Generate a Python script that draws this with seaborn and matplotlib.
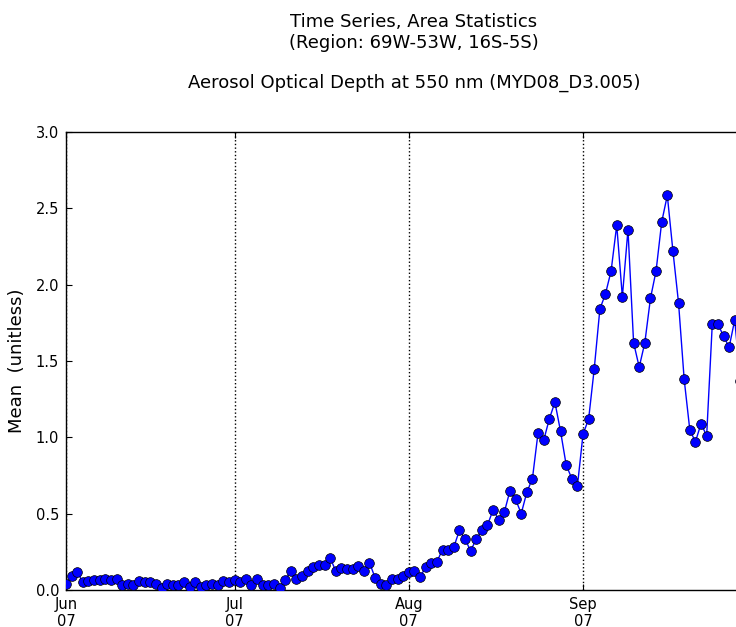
import numpy as np
import pandas as pd
import matplotlib
matplotlib.use("Agg")
import matplotlib.pyplot as plt
import matplotlib.dates as mdates
import seaborn as sns

start_date = "2007-06-01"
aod_mean = [
    0.04, 0.09, 0.12, 0.05, 0.06, 0.065, 0.065, 0.07, 0.065, 0.07,
    0.03, 0.04, 0.035, 0.06, 0.05, 0.05, 0.04, 0.015, 0.04, 0.03,
    0.03, 0.05, 0.02, 0.055, 0.02, 0.03, 0.04, 0.03, 0.06, 0.05,
    0.065, 0.055, 0.07, 0.03, 0.07, 0.03, 0.03, 0.04, 0.015, 0.065,
    0.125, 0.07, 0.09, 0.125, 0.15, 0.165, 0.165, 0.21, 0.125, 0.145,
    0.135, 0.135, 0.16, 0.125, 0.18, 0.08, 0.04, 0.03, 0.075, 0.07,
    0.09, 0.115, 0.125, 0.085, 0.15, 0.18, 0.185, 0.265, 0.265, 0.28,
    0.39, 0.335, 0.255, 0.335, 0.39, 0.425, 0.525, 0.46, 0.51, 0.65,
    0.595, 0.50, 0.64, 0.73, 1.03, 0.98, 1.12, 1.23, 1.04, 0.82,
    0.73, 0.68, 1.02, 1.12, 1.45, 1.84, 1.94, 2.09, 2.39, 1.92,
    2.36, 1.62, 1.46, 1.62, 1.91, 2.09, 2.41, 2.585, 2.22, 1.88,
    1.38, 1.05, 0.97, 1.09, 1.01, 1.74, 1.74, 1.665, 1.59, 1.77,
    1.37,
]
y_ticks = [0.0, 0.5, 1.0, 1.5, 2.0, 2.5, 3.0]
tick_months = [6, 7, 8, 9]
title_lines = ["Time Series, Area Statistics", "(Region: 69W-53W, 16S-5S)",
               "Aerosol Optical Depth at 550 nm (MYD08_D3.005)"]
y_label = "Mean  (unitless)"

dates = pd.date_range(start_date, periods=len(aod_mean), freq="D")
df = pd.DataFrame({"date": dates, "value": aod_mean})

sns.set_style("ticks")
plt.rcParams["font.family"] = ["DejaVu Sans"]
plt.rcParams["text.color"] = "k"
plt.rcParams["axes.labelcolor"] = "k"

W, H = 736, 627
fig = plt.figure(figsize=(W / 100, H / 100), dpi=100)
ax = fig.add_axes([66 / W, (H - 590) / H, 696 / W, 458 / H])

sns.lineplot(data=df, x="date", y="value", ax=ax, color="#0000ff",
             marker="o", markersize=7, markeredgecolor="k",
             markeredgewidth=0.5, linewidth=1.0, zorder=3)

x0 = pd.Timestamp(start_date)
ax.set_xlim(x0, x0 + pd.Timedelta(days=123.85))
ax.set_ylim(0, 3.0)
ax.set_yticks(y_ticks)
ax.set_yticklabels([f"{t:.1f}" for t in y_ticks])
ax.xaxis.set_major_locator(mdates.MonthLocator(bymonth=tick_months))
ax.xaxis.set_major_formatter(mdates.DateFormatter("%b\n%y"))
ax.xaxis.grid(True, linestyle=":", color="k", linewidth=1.0)
ax.yaxis.grid(False)
ax.tick_params(direction="in", top=True, right=True, length=4,
               labelsize=10.5, colors="k", pad=5)
for s in ax.spines.values():
    s.set_color("k")
    s.set_linewidth(1.0)
ax.set_xlabel("")
ax.set_ylabel(y_label, fontsize=13, labelpad=7)

fig.text(414 / W, 1 - 27 / H, title_lines[0], ha="center", va="baseline", fontsize=13)
fig.text(414 / W, 1 - 48 / H, title_lines[1], ha="center", va="baseline", fontsize=13)
fig.text(414 / W, 1 - 88 / H, title_lines[2], ha="center", va="baseline", fontsize=13)

fig.savefig("out.png", dpi=100)
